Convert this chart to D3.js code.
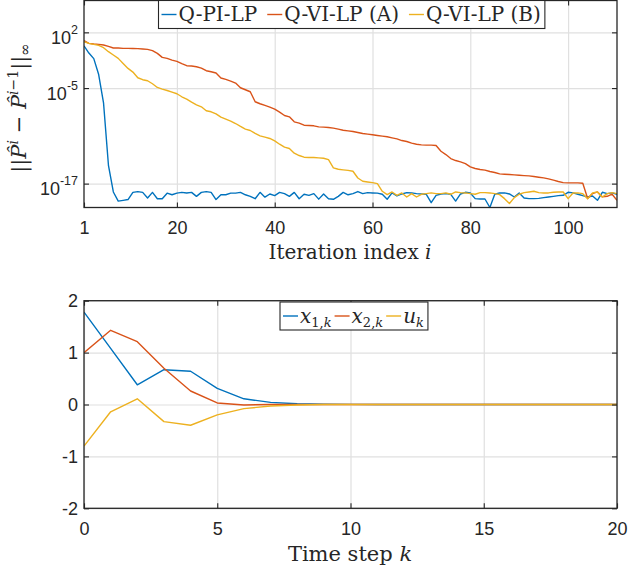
<!DOCTYPE html>
<html>
<head>
<meta charset="utf-8">
<script src="https://cdn.jsdelivr.net/npm/d3@7"></script>
<style>
  body { margin: 0; background: #fff; }
  svg text { fill: #262626; }
</style>
</head>
<body>
<div id="chart"></div>
<script>
// ---- data ----
// top panel: log10 of ||P^i - P^(i-1)||_inf, i = 1..110
var iterIndex = d3.range(1, 111);
var logQPI = [0.3, -0.6, -1.3, -3.3, -6.9, -14.7, -18.05, -19.2, -19.1, -19.0,
  -18.1, -18.0, -18.1, -18.8, -18.1, -18.9, -18.9, -18.2, -18.4, -18.2,
  -18.1, -18.17, -18.1, -18.6, -18.1, -18.0, -18.1, -19.0, -18.4, -18.4,
  -18.2, -18.2, -18.1, -18.4, -18.6, -18.9, -18.1, -18.7, -18.3, -18.5,
  -18.1, -18.26, -18.6, -18.1, -18.9, -18.34, -18.47, -18.26, -18.95, -18.3,
  -18.9, -18.97, -18.6, -18.1, -18.4, -18.26, -18.0, -18.26, -18.13, -18.17,
  -18.2, -18.34, -18.97, -18.17, -18.55, -18.3, -18.13, -18.17, -18.26, -18.3,
  -18.34, -19.39, -18.47, -18.3, -18.26, -18.34, -19.2, -18.3, -18.09, -18.17,
  -18.89, -18.93, -18.93, -20.0, -18.34, -18.17, -18.17, -18.3, -18.68, -18.17,
  -18.8, -18.89, -18.89, -18.85, -18.76, -18.68, -18.6, -18.51, -18.47, -18.09,
  -18.17, -18.34, -18.51, -18.68, -18.55, -19.1, -18.09, -18.26, -18.17, -18.34];
var logQVIA = [0.95, 0.62, 0.53, 0.49, 0.41, 0.24, 0.03, 0.03, -0.01, -0.01,
  -0.03, -0.05, -0.09, -0.14, -0.3, -0.64, -1.14, -1.27, -1.48, -1.65,
  -1.94, -2.19, -2.23, -2.32, -2.49, -2.82, -2.95, -3.1, -3.74, -3.91,
  -4.12, -4.37, -4.96, -5.21, -5.46, -6.72, -6.97, -7.18, -7.39, -7.64,
  -8.02, -8.44, -8.61, -9.24, -9.4, -9.66, -9.7, -9.74, -9.87, -9.91,
  -9.95, -10.03, -10.16, -10.29, -10.37, -10.45, -10.58, -10.7, -10.79, -10.87,
  -10.96, -11.04, -11.12, -11.25, -11.38, -11.59, -11.71, -11.92, -12.05, -12.13,
  -12.17, -12.17, -12.21, -12.93, -13.35, -13.85, -14.1, -14.27, -14.48, -14.9,
  -15.1, -15.23, -15.3, -15.48, -15.6, -15.78, -15.82, -15.86, -15.9, -15.95,
  -15.99, -16.03, -16.11, -16.2, -16.28, -16.41, -16.57, -16.74, -16.87, -16.91,
  -16.91, -16.91, -16.95, -18.88, -18.25, -18.04, -18.67, -18.59, -18.33, -19.1];
var logQVIB = [0.83, 0.62, 0.49, 0.36, 0.07, -0.43, -0.85, -1.27, -1.9, -2.53,
  -2.99, -3.7, -3.95, -4.08, -4.46, -4.92, -5.13, -5.3, -5.5, -5.71,
  -6.09, -6.39, -6.76, -7.1, -7.35, -7.85, -7.98, -8.25, -8.65, -8.9,
  -9.15, -9.45, -9.82, -10.16, -10.33, -10.7, -11.0, -11.17, -11.33, -11.63,
  -12.05, -12.42, -12.59, -13.18, -13.47, -13.68, -13.72, -13.72, -13.77, -13.81,
  -13.98, -15.02, -15.19, -15.27, -15.34, -15.45, -16.29, -16.7, -16.79, -16.87,
  -17.0, -17.96, -18.38, -18.05, -18.47, -18.17, -18.68, -18.26, -18.68, -18.34,
  -18.26, -18.17, -18.26, -18.26, -18.17, -18.34, -18.05, -18.13, -18.17, -18.26,
  -18.34, -18.13, -18.13, -18.17, -18.26, -18.38, -18.89, -19.5, -18.76, -18.34,
  -18.13, -18.05, -17.96, -18.13, -18.17, -18.17, -18.09, -18.05, -18.05, -18.89,
  -18.17, -18.17, -18.26, -18.89, -18.17, -18.05, -18.68, -18.26, -18.13, -18.26];
var topNames = ["Q-PI-LP", "Q-VI-LP (A)", "Q-VI-LP (B)"];
var topXTicks = [1, 20, 40, 60, 80, 100];
var topYTicks = [1e-17, 1e-5, 1e2];

// bottom panel: closed-loop trajectories, k = 0..20
var timeStep = [0, 1, 2, 3, 4, 5, 6, 7, 8, 9, 10, 11, 12, 13, 14, 15, 16, 17, 18, 19, 20];
var x1 = [1.78, 1.08, 0.38, 0.67, 0.64, 0.31, 0.11, 0.04, 0.015, 0.005, 0.002, 0, 0, 0, 0, 0, 0, 0, 0, 0, 0];
var x2 = [1.0, 1.43, 1.21, 0.70, 0.26, 0.03, -0.01, 0, 0, 0, 0, 0, 0, 0, 0, 0, 0, 0, 0, 0, 0];
var u = [-0.80, -0.14, 0.11, -0.33, -0.40, -0.20, -0.08, -0.03, -0.01, 0, 0, 0, 0, 0, 0, 0, 0, 0, 0, 0, 0];
var botXTicks = [0, 5, 10, 15, 20];
var botYTicks = [-2, -1, 0, 1, 2];

var colors = ["#0072BD", "#D95319", "#EDB120"];

// ---- layout ----
var width = 630, height = 571;
var topBox = {left: 84, right: 617, top: 0.5, bottom: 207.5};
var botBox = {left: 84, right: 617, top: 300.7, bottom: 508.3};
var sans = "'Liberation Sans', Arial, sans-serif";
var serif = "'DejaVu Serif', 'Liberation Serif', serif";

var svg = d3.select("#chart")
    .append("svg")
    .attr("width", width)
    .attr("height", height)
    .style("display", "block");

// scales
var xTop = d3.scaleLinear().domain([1, 110]).range([topBox.left, topBox.right]);
var yTop = d3.scaleLog().domain([1e-20, 1e6]).range([topBox.bottom, topBox.top]);
var xBot = d3.scaleLinear().domain([0, 20]).range([botBox.left, botBox.right]);
var yBot = d3.scaleLinear().domain([-2, 2]).range([botBox.bottom, botBox.top]);

function drawFrame(box, x, y, xTicks, yTicks, id) {
  var g = svg.append("g");
  var w = box.right - box.left, h = box.bottom - box.top;
  g.append("rect").attr("x", box.left).attr("y", box.top)
    .attr("width", w).attr("height", h).attr("fill", "#fff");
  // grid
  var gx = g.append("g").attr("transform", "translate(0," + box.bottom + ")")
    .call(d3.axisBottom(x).tickValues(xTicks).tickSize(-h).tickFormat(""));
  var gy = g.append("g").attr("transform", "translate(" + box.left + ",0)")
    .call(d3.axisLeft(y).tickValues(yTicks).tickSize(-w).tickFormat(""));
  [gx, gy].forEach(function(s) {
    s.select(".domain").remove();
    s.selectAll("line").attr("stroke", "#e0e0e0").attr("stroke-width", 1.2);
  });
  svg.append("clipPath").attr("id", id)
    .append("rect").attr("x", box.left).attr("y", box.top - 1)
    .attr("width", w).attr("height", h + 2);
  return g;
}

function drawAxes(box, x, y, xTicks, yTicks, yFmt) {
  var w = box.right - box.left, h = box.bottom - box.top;
  var ax = svg.append("g").attr("transform", "translate(0," + box.bottom + ")")
    .call(d3.axisBottom(x).tickValues(xTicks).tickSize(-5).tickPadding(14)
      .tickFormat(function(d) { return String(d); }));
  var at = svg.append("g").attr("transform", "translate(0," + box.top + ")")
    .call(d3.axisTop(x).tickValues(xTicks).tickSize(-5).tickFormat(""));
  var ay = svg.append("g").attr("transform", "translate(" + box.left + ",0)")
    .call(d3.axisLeft(y).tickValues(yTicks).tickSize(-5).tickPadding(6).tickFormat(yFmt));
  var ar = svg.append("g").attr("transform", "translate(" + box.right + ",0)")
    .call(d3.axisRight(y).tickValues(yTicks).tickSize(-5).tickFormat(""));
  [ax, at, ay, ar].forEach(function(s) {
    s.select(".domain").remove();
    s.selectAll("line").attr("stroke", "#262626").attr("stroke-width", 1.1);
    s.selectAll("text").style("font-family", sans).style("font-size", "18px")
      .attr("fill", "#262626");
  });
  svg.append("rect").attr("x", box.left).attr("y", box.top)
    .attr("width", w).attr("height", h)
    .attr("fill", "none").attr("stroke", "#262626").attr("stroke-width", 1.3);
  return ay;
}

function drawLines(series, xs, x, y, clipId, tx) {
  var line = d3.line().x(function(d, i) { return x(xs[i]); })
    .y(function(d) { return y(tx(d)); });
  var g = svg.append("g").attr("clip-path", "url(#" + clipId + ")");
  series.forEach(function(s, k) {
    g.append("path").datum(s)
      .attr("d", line)
      .attr("fill", "none")
      .attr("stroke", colors[k])
      .attr("stroke-width", 1.4)
      .attr("stroke-linejoin", "round");
  });
}

function drawLegend(box, items) {
  var g = svg.append("g");
  var rect = g.append("rect").attr("fill", "#fff").attr("stroke", "#262626").attr("stroke-width", 1.1);
  var xc = box.x + 3;
  var midY = box.y + (box.h / 2);
  items.forEach(function(it, k) {
    g.append("line").attr("x1", xc).attr("x2", xc + 15)
      .attr("y1", midY).attr("y2", midY)
      .attr("stroke", colors[k]).attr("stroke-width", 1.4);
    xc += 17;
    var t = g.append("text").attr("x", xc).attr("y", midY + 6.5)
      .style("font-family", serif).style("font-size", box.fs + "px").attr("fill", "#000");
    it.forEach(function(p) {
      var ts = t.append("tspan").text(p.t);
      if (p.italic) ts.style("font-style", "italic");
      if (p.sub) ts.style("font-size", "13px");
      if (p.dy) ts.attr("dy", p.dy);
    });
    xc += t.node().getComputedTextLength() + box.gap;
  });
  rect.attr("x", box.x).attr("y", box.y).attr("width", xc - box.gap + 4 - box.x).attr("height", box.h);
}

// ---- top panel ----
drawFrame(topBox, xTop, yTop, topXTicks.slice(1), topYTicks, "clipTop");
drawLines([logQPI, logQVIA, logQVIB], iterIndex, xTop, yTop, "clipTop",
  function(d) { return Math.pow(10, d); });
var ayTop = drawAxes(topBox, xTop, yTop, topXTicks, topYTicks, function() { return ""; });
ayTop.selectAll(".tick text").each(function(d) {
  var t = d3.select(this);
  var e = Math.round(Math.log10(d));
  t.append("tspan").text("10");
  t.append("tspan").text(String(e)).attr("dy", -10).style("font-size", "12.5px");
  t.attr("dy", "0.62em");
});

// y label
var yl = svg.append("text")
  .attr("transform", "translate(26,108) rotate(-90)")
  .attr("text-anchor", "middle")
  .style("font-family", serif).style("font-size", "21px");
yl.append("tspan").text("||");
yl.append("tspan").text("P\u0302").style("font-style", "italic");
yl.append("tspan").text("i").style("font-style", "italic").style("font-size", "14px").attr("dy", -8);
yl.append("tspan").text(" \u2212 ").attr("dy", 8);
yl.append("tspan").text("P\u0302").style("font-style", "italic");
yl.append("tspan").text("i").style("font-style", "italic").style("font-size", "14px").attr("dy", -8);
yl.append("tspan").text("\u22121").style("font-size", "14px");
yl.append("tspan").text("||").attr("dy", 8);
yl.append("tspan").text("\u221E").style("font-size", "15px").attr("dy", 4);

svg.append("text").attr("x", 350).attr("y", 258.5).attr("text-anchor", "middle")
  .style("font-family", serif).style("font-size", "20px")
  .call(function(t) {
    t.append("tspan").text("Iteration index ");
    t.append("tspan").text("i").style("font-style", "italic");
  });

drawLegend({x: 158.5, y: 0.5, h: 28, gap: 10, fs: 20}, topNames.map(function(n) { return [{t: n}]; }));

// ---- bottom panel ----
drawFrame(botBox, xBot, yBot, botXTicks, botYTicks, "clipBot");
drawLines([x1, x2, u], timeStep, xBot, yBot, "clipBot", function(d) { return d; });
drawAxes(botBox, xBot, yBot, botXTicks, botYTicks, function(d) { return String(d); });

svg.append("text").attr("x", 350).attr("y", 561).attr("text-anchor", "middle")
  .style("font-family", serif).style("font-size", "21px")
  .call(function(t) {
    t.append("tspan").text("Time step ");
    t.append("tspan").text("k").style("font-style", "italic");
  });

drawLegend({x: 280, y: 302, h: 28, gap: 3, fs: 20}, [
  [{t: "x", italic: true}, {t: "1,", sub: true, dy: 4}, {t: "k", sub: true, italic: true}],
  [{t: "x", italic: true}, {t: "2,", sub: true, dy: 4}, {t: "k", sub: true, italic: true}],
  [{t: "u", italic: true}, {t: "k", sub: true, italic: true, dy: 4}]
]);
</script>
</body>
</html>
